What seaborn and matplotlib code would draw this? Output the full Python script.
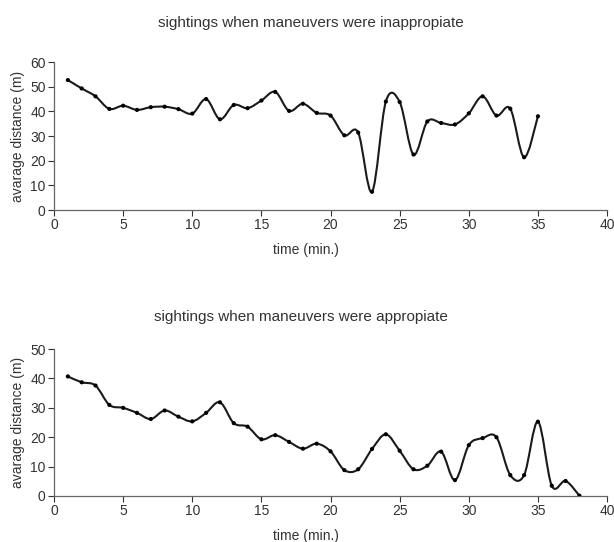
import numpy as np
import matplotlib
matplotlib.use("Agg")
import matplotlib.pyplot as plt
from matplotlib.path import Path
from matplotlib.patches import PathPatch
import seaborn as sns

time_top = list(range(1, 36))
dist_inappropriate = [52.7, 49.3, 46.1, 41.0, 42.3, 40.6, 41.7, 41.9, 40.9, 39.1,
                      45.0, 36.8, 42.6, 41.3, 44.4, 47.9, 40.2, 43.1, 39.4, 38.3,
                      30.3, 31.4, 7.4, 44.0, 43.8, 22.5, 35.9, 35.3, 34.7, 39.2,
                      46.1, 38.3, 41.1, 21.4, 38.0]

time_bottom = list(range(1, 39))
dist_appropriate = [40.7, 38.7, 37.6, 31.0, 30.0, 28.3, 26.2, 29.1, 27.0, 25.4,
                    28.3, 31.9, 24.8, 23.6, 19.3, 20.7, 18.4, 16.1, 17.8, 15.2,
                    8.8, 9.1, 16.0, 21.0, 15.4, 9.1, 10.3, 15.1, 5.4, 17.3,
                    19.7, 20.0, 7.1, 7.1, 25.3, 3.5, 5.1, 0.1]

titles = ["sightings when maneuvers were inappropiate",
          "sightings when maneuvers were appropiate"]
y_tops = [60, 50]

sns.set_theme(style="white")
plt.rcParams["font.family"] = ["Liberation Sans", "DejaVu Sans"]
text_color = "#333333"


def smooth_path(x, y):
    # excel-like smoothed line: cubic bezier through every point
    pts = np.column_stack([x, y]).astype(float)
    n = len(pts)
    verts = [pts[0]]
    codes = [Path.MOVETO]
    for i in range(n - 1):
        p0 = pts[i - 1] if i > 0 else pts[i]
        p1 = pts[i]
        p2 = pts[i + 1]
        p3 = pts[i + 2] if i + 2 < n else pts[i + 1]
        c1 = p1 + (p2 - p0) / 6.0
        c2 = p2 - (p3 - p1) / 6.0
        verts += [c1, c2, p2]
        codes += [Path.CURVE4] * 3
    return Path(verts, codes)


def draw_panel(ax, x, y, title, ytop, title_x, title_pad):
    patch = PathPatch(smooth_path(x, y), facecolor="none", edgecolor="#1a1a1a",
                      lw=1.5, transform=ax.transData)
    ax.add_patch(patch)
    sns.scatterplot(x=x, y=y, ax=ax, color="black", s=9, edgecolor="none", zorder=3)
    ax.set_xlim(0, 40)
    ax.set_ylim(0, ytop)
    ax.set_xticks(range(0, 41, 5))
    ax.set_yticks(range(0, ytop + 1, 10))
    ax.set_title(title, fontsize=11, color=text_color, pad=title_pad, x=title_x)
    ax.set_xlabel("time (min.)", fontsize=10, color=text_color, labelpad=8, x=0.456)
    ax.set_ylabel("avarage distance (m)", fontsize=10, color=text_color, labelpad=4)
    ax.tick_params(axis="both", labelsize=10, colors=text_color, length=4,
                   width=0.8, direction="out", bottom=True, left=True, pad=2)
    sns.despine(ax=ax)
    for s in ["left", "bottom"]:
        ax.spines[s].set_color("#666666")
        ax.spines[s].set_linewidth(0.9)


fig = plt.figure(figsize=(6.14, 5.42), dpi=100)
ax_top = fig.add_axes([0.088, 0.6125, 0.9007, 0.273])
ax_bot = fig.add_axes([0.088, 0.0849, 0.9007, 0.271])

draw_panel(ax_top, time_top, dist_inappropriate, titles[0], y_tops[0], 0.465, 25)
draw_panel(ax_bot, time_bottom, dist_appropriate, titles[1], y_tops[1], 0.447, 20)

fig.savefig("out.png", dpi=100)
